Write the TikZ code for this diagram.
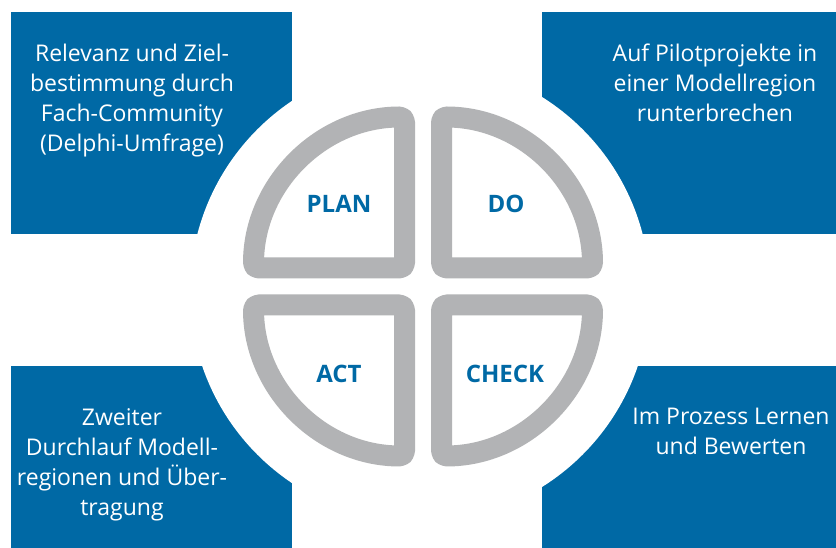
\documentclass[tikz,border=0pt]{standalone}
\usepackage{fontspec}
\setmainfont{Open Sans}
\definecolor{pdcablue}{RGB}{0,105,165}
\definecolor{pdcagray}{RGB}{178,179,181}

\begin{document}
\begin{tikzpicture}[x=1pt,y=1pt,
  infobox/.style={fill=pdcablue},
  infotext/.style={text=white, align=center, inner sep=0pt,
    font=\fontsize{23}{30}\selectfont},
  phase/.style={draw=pdcagray, fill=white, line width=21pt,
    rounded corners=5pt, line join=round},
  phaselabel/.style={text=pdcablue, inner sep=0pt,
    font=\bfseries\fontsize{24}{28}\selectfont}]
\useasboundingbox (0,0) rectangle (836,548);
\fill[white] (0,0) rectangle (836,548);

% corner panels
\fill[infobox] (11,314) rectangle (292,536);
\fill[infobox] (542,314) rectangle (836,536);
\fill[infobox] (11,0) rectangle (292,182);
\fill[infobox] (542,0) rectangle (836,182);

% white disc behind the cycle
\fill[white] (420,256) circle[radius=230];

% PDCA quarters
\def\qcx{423}
\def\qcy{261.5}
\def\qgap{18.5}
\def\qrad{151}
\draw[phase] (\qcx-\qgap,\qcy+\qgap) -- ++(-\qrad,0)
  arc[start angle=180, end angle=90, radius=\qrad] -- cycle;
\draw[phase] (\qcx+\qgap,\qcy+\qgap) -- ++(\qrad,0)
  arc[start angle=0, end angle=90, radius=\qrad] -- cycle;
\draw[phase] (\qcx-\qgap,\qcy-\qgap) -- ++(-\qrad,0)
  arc[start angle=180, end angle=270, radius=\qrad] -- cycle;
\draw[phase] (\qcx+\qgap,\qcy-\qgap) -- ++(\qrad,0)
  arc[start angle=0, end angle=-90, radius=\qrad] -- cycle;

% phase labels
\node[phaselabel] (plan) at (339,344) {PLAN};
\node[phaselabel] (do) at (506,344) {DO};
\node[phaselabel] (act) at (339,174) {ACT};
\node[phaselabel] (check) at (505,174) {CHECK};

% panel texts
\node[infotext] (plantext) at (132,447)
  {Relevanz und Ziel-\\bestimmung durch\\Fach-Community\\(Delphi-Umfrage)};
\node[infotext] (dotext) at (715,465)
  {Auf Pilotprojekte in\\einer Modellregion\\runterbrechen};
\node[infotext] (acttext) at (122,83)
  {Zweiter\\Durchlauf Modell-\\regionen und Über-\\tragung};
\node[infotext] (checktext) at (731,117)
  {Im Prozess Lernen\\und Bewerten};
\end{tikzpicture}
\end{document}
